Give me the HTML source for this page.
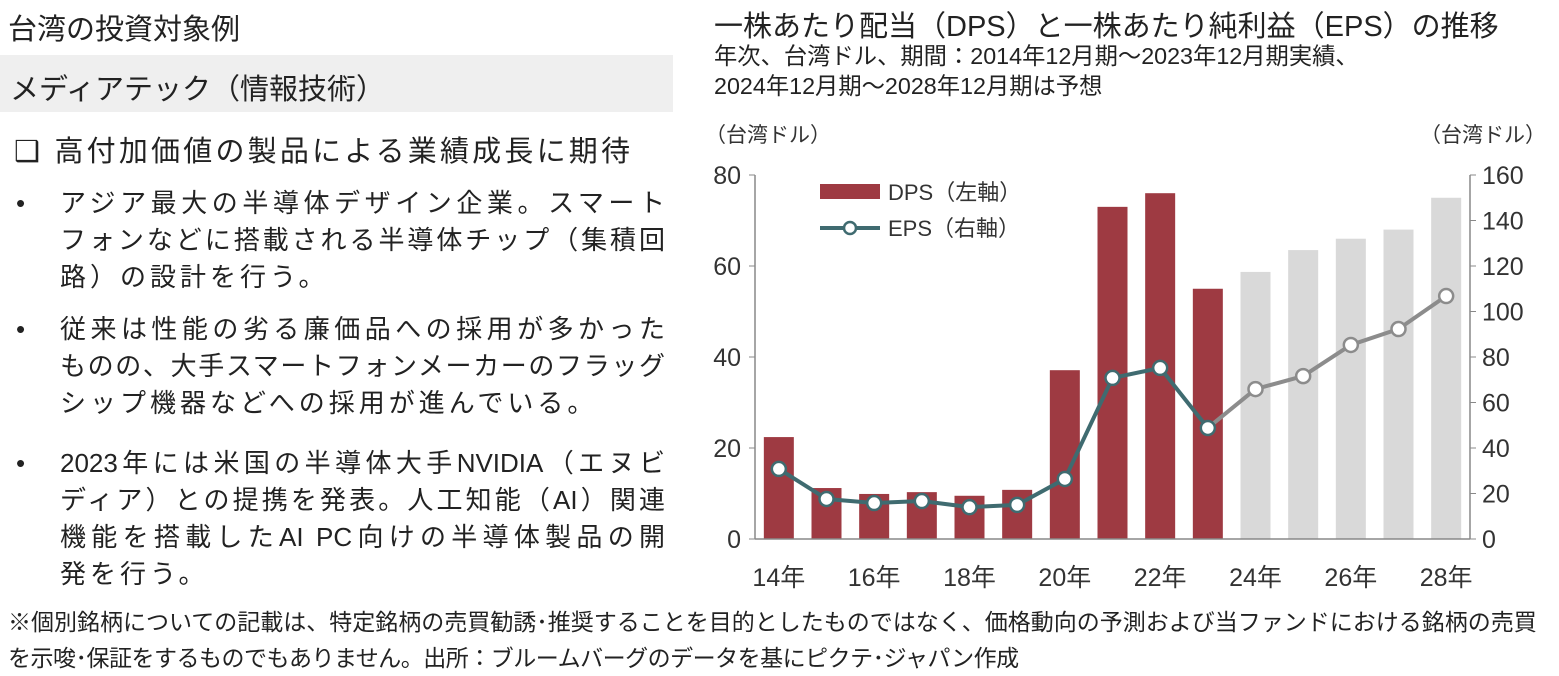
<!DOCTYPE html>
<html><head><meta charset="utf-8"><style>
body{margin:0;width:1559px;height:675px;background:#fff;font-family:"Liberation Sans","Noto Sans CJK JP",sans-serif;color:#222;overflow:hidden;position:relative}
.a{position:absolute;white-space:nowrap}
.l{position:absolute;left:60px;width:605px;font-size:26px;line-height:37px;text-align:justify;text-align-last:justify;white-space:nowrap}
.l.n{text-align-last:left;letter-spacing:4px}
.d{position:absolute;left:16px;font-size:26px;line-height:37px}
</style></head><body>
<div class="a" style="left:8px;top:6px;font-size:29px">台湾の投資対象例</div>
<div class="a" style="left:0;top:55px;width:673px;height:57px;background:#efefef"></div>
<div class="a" style="left:10px;top:66px;font-size:29px">メディアテック（情報技術）</div>
<div class="a" style="left:14px;top:128px;font-size:29px;letter-spacing:3.2px">❑ 高付加価値の製品による業績成長に期待</div>
<div>
<div class="d" style="top:185px">•</div>
<div class="l" style="top:185px">アジア最大の半導体デザイン企業。スマート</div>
<div class="l" style="top:222px">フォンなどに搭載される半導体チップ（集積回</div>
<div class="l n" style="top:259px">路）の設計を行う。</div>
</div>
<div>
<div class="d" style="top:311px">•</div>
<div class="l" style="top:311px">従来は性能の劣る廉価品への採用が多かった</div>
<div class="l" style="top:348px">ものの、大手スマートフォンメーカーのフラッグ</div>
<div class="l n" style="top:385px">シップ機器などへの採用が進んでいる。</div>
</div>
<div>
<div class="d" style="top:445px">•</div>
<div class="l" style="top:445px">2023年には米国の半導体大手NVIDIA（エヌビ</div>
<div class="l" style="top:482px">ディア）との提携を発表。人工知能（AI）関連</div>
<div class="l" style="top:519px">機能を搭載したAI PC向けの半導体製品の開</div>
<div class="l n" style="top:556px">発を行う。</div>
</div>
<div class="a" style="left:8px;top:604px;font-size:23px;line-height:36px">※個別銘柄についての記載は、特定銘柄の売買勧誘･推奨することを目的としたものではなく、価格動向の予測および当ファンドにおける銘柄の売買<br><span style="letter-spacing:-0.5px">を示唆･保証をするものでもありません。出所：ブルームバーグのデータを基にピクテ･ジャパン作成</span></div>
<div class="a" style="left:714px;top:3px;font-size:29px">一株あたり配当（DPS）と一株あたり純利益（EPS）の推移</div>
<div class="a" style="left:714px;top:41px;font-size:23.3px;line-height:30px">年次、台湾ドル、期間：2014年12月期～2023年12月期実績、<br>2024年12月期～2028年12月期は予想</div>
<svg class="a" style="left:0;top:0" width="1559" height="675">
<g id="g" font-family="Liberation Sans, Noto Sans CJK JP, sans-serif"></g>
</svg>
<script>
const years=["14","15","16","17","18","19","20","21","22","23","24","25","26","27","28"];
const dps=[22.4,11.2,9.9,10.3,9.5,10.8,37.1,73,76,55,58.7,63.5,66,68,75];
const eps=[30.8,17.6,15.8,16.7,14,15,26.4,70.8,75.2,48.8,65.9,71.6,85.3,92.3,106.8];
const forecastStart=10;
const leftTicks=[0,20,40,60,80];
const rightTicks=[0,20,40,60,80,100,120,140,160];
const X0=755,X1=1470,Y0=539,Y1=175,step=(X1-X0)/years.length;
const xc=i=>X0+step*(i+0.5);
const yl=v=>Y0-(Y0-Y1)*v/80;
const yr=v=>Y0-(Y0-Y1)*v/160;
const g=document.getElementById('g');const NS='http://www.w3.org/2000/svg';
function mk(t,a,txt){const e=document.createElementNS(NS,t);for(const k in a)e.setAttribute(k,a[k]);if(txt!=null)e.textContent=txt;g.appendChild(e);return e;}
dps.forEach((v,i)=>{const e=mk('rect',{x:xc(i)-15,y:yl(v),width:30,height:Y0-yl(v),fill:i<forecastStart?'#9e3a42':'#d9d9d9'});

});
mk('line',{x1:X0,y1:Y1,x2:X0,y2:Y0,stroke:'#888','stroke-width':1.5});
mk('line',{x1:X1,y1:Y1,x2:X1,y2:Y0,stroke:'#888','stroke-width':1.5});
mk('line',{x1:X0,y1:Y0,x2:X1,y2:Y0,stroke:'#888','stroke-width':1.5});
leftTicks.forEach(t=>{mk('line',{x1:X0-6,y1:yl(t),x2:X0,y2:yl(t),stroke:'#888'});
const e=mk('text',{x:X0-14,y:yl(t)+9,'text-anchor':'end','font-size':25,fill:'#333'},t);

});
rightTicks.forEach(t=>{mk('line',{x1:X1,y1:yr(t),x2:X1+6,y2:yr(t),stroke:'#888'});
const e=mk('text',{x:X1+12,y:yr(t)+9,'font-size':25,fill:'#333'},t);

});
years.forEach((y,i)=>{if(i%2==0){const e=mk('text',{x:xc(i),y:586,'text-anchor':'middle','font-size':25,fill:'#333'},y+'年');

}});
for(let i=0;i<eps.length-1;i++){mk('line',{x1:xc(i),y1:yr(eps[i]),x2:xc(i+1),y2:yr(eps[i+1]),stroke:i+1<forecastStart?'#3f6b70':'#8c8c8c','stroke-width':4});}
eps.forEach((v,i)=>{const e=mk('circle',{cx:xc(i),cy:yr(v),r:7,fill:'#fff',stroke:i<forecastStart?'#3f6b70':'#8c8c8c','stroke-width':2.5});

});
let e=mk('text',{x:705,y:142,'font-size':21,fill:'#333'},'（台湾ドル）');


e=mk('text',{x:1420,y:142,'font-size':21,fill:'#333'},'（台湾ドル）');


mk('rect',{x:820,y:184,width:60,height:15,fill:'#9e3a42'});
e=mk('text',{x:888,y:200,'font-size':22,fill:'#333'},'DPS（左軸）');


mk('line',{x1:820,y1:228,x2:880,y2:228,stroke:'#3f6b70','stroke-width':4});
mk('circle',{cx:850,cy:228,r:6,fill:'#fff',stroke:'#3f6b70','stroke-width':2.5});
e=mk('text',{x:888,y:236,'font-size':22,fill:'#333'},'EPS（右軸）');


</script>
</body></html>
